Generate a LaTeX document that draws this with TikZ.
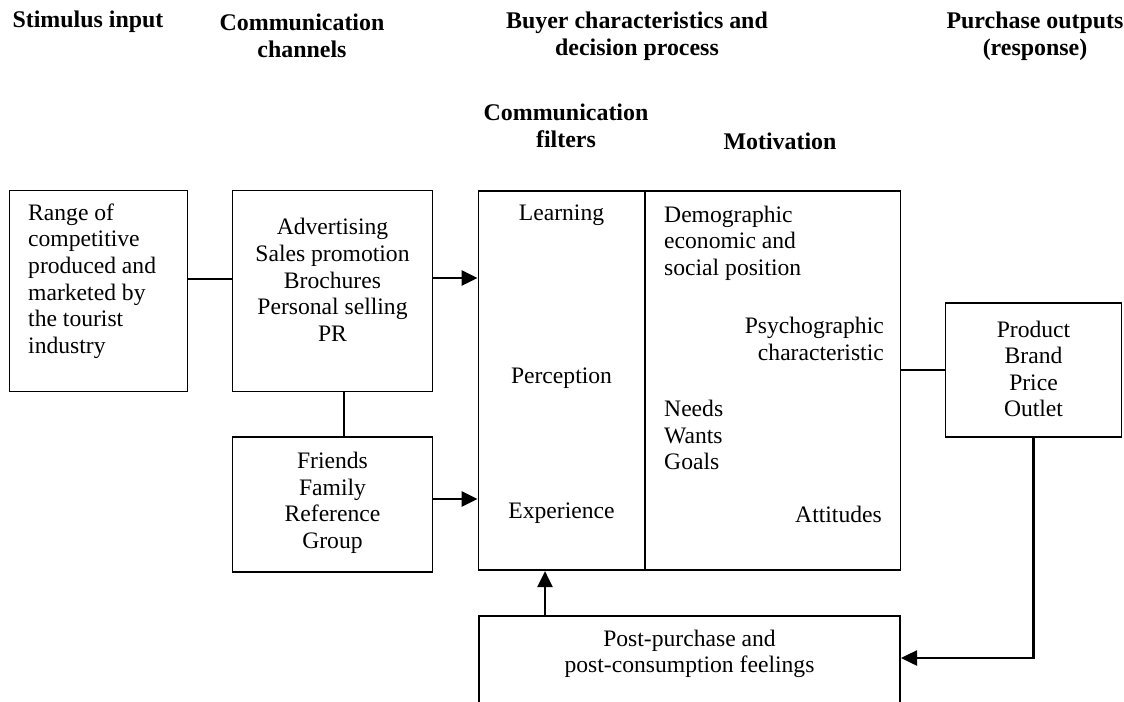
\documentclass[tikz,border=0pt]{standalone}
\usepackage{fontspec}
\setmainfont{Liberation Serif}
\usetikzlibrary{arrows.meta}
\begin{document}
\begin{tikzpicture}[x=1bp,y=-1bp,
  box/.style={draw, line width=1.6bp, inner sep=0pt},
  txt/.style={inner sep=0pt, font=\fontsize{23.7}{26.7}\selectfont},
  hdr/.style={inner sep=0pt, font=\fontsize{24}{27.5}\selectfont\bfseries, align=center},
  conn/.style={line width=1.6bp},
  arr/.style={line width=2.6bp, -{Triangle[length=16bp,width=15bp]}}]
\useasboundingbox (0,0) rectangle (1124,702);
\clip (0,0) rectangle (1124,702);

% headers
\node[hdr] (h1) at (88,22) {Stimulus input};
\node[hdr] (h2) at (302,36) {Communication\\channels};
\node[hdr] (h3) at (637,36) {Buyer characteristics and\\decision process};
\node[hdr] (h4) at (1035,36) {Purchase outputs\\(response)};
\node[hdr] (h5) at (566,126) {Communication\\filters};
\node[hdr] (h6) at (780,141) {Motivation};

% boxes
\node[box, minimum width=179, minimum height=202] (range) at (98.5,291) {};
\node[box, minimum width=201, minimum height=202] (adv) at (332.5,291) {};
\node[box, minimum width=201, minimum height=135] (fri) at (332.5,504.5) {};
\node[box, minimum width=167, minimum height=381] (filt) at (561.5,380.5) {};
\node[box, minimum width=256, minimum height=381] (motiv) at (773,380.5) {};
\node[box, minimum width=177, minimum height=134] (prod) at (1033.5,370) {};
\node[box, minimum width=423, minimum height=130] (post) at (689.5,681) {};

% box texts
\node[txt, align=left, anchor=west] (rangeT) at (28,281) {Range of\\competitive\\produced and\\marketed by\\the tourist\\industry};
\node[txt, align=center] (advT) at (332.5,280) {Advertising\\Sales promotion\\Brochures\\Personal selling\\PR};
\node[txt, align=center] (friT) at (332.5,503) {Friends\\Family\\Reference\\Group};
\node[txt] (learn) at (561.5,215) {Learning};
\node[txt] (perc) at (561.5,378) {Perception};
\node[txt] (exper) at (561.5,513) {Experience};
\node[txt, align=left, anchor=west] (demo) at (664,243) {Demographic\\economic and\\social position};
\node[txt, align=right, anchor=east] (psy) at (884,339) {Psychographic\\characteristic};
\node[txt, align=left, anchor=west] (needs) at (664,435) {Needs\\Wants\\Goals};
\node[txt, anchor=east] (att) at (882,514) {Attitudes};
\node[txt, align=center] (prodT) at (1033.5,369) {Product\\Brand\\Price\\Outlet};
\node[txt, align=center] (postT) at (689.5,654) {Post-purchase and\\post-consumption feelings};

% helper coordinates
\coordinate (ya) at (0,279);
\coordinate (yb) at (0,278);
\coordinate (yc) at (0,499);
\coordinate (xd) at (344,0);
\coordinate (xe) at (545,0);
\coordinate (yf) at (0,658);

% connectors
\draw[conn] (range.east |- ya) -- (adv.west |- ya);
\draw[conn] (adv.south -| xd) -- (fri.north -| xd);
\draw[arr] (adv.east |- yb) -- (filt.west |- yb);
\draw[arr] (fri.east |- yc) -- (filt.west |- yc);
\draw[arr] (post.north -| xe) -- (filt.south -| xe);
\draw[conn] (motiv.east |- prod.west) -- (prod.west);
\draw[arr] (prod.south) |- (post.east |- yf);
\end{tikzpicture}
\end{document}
